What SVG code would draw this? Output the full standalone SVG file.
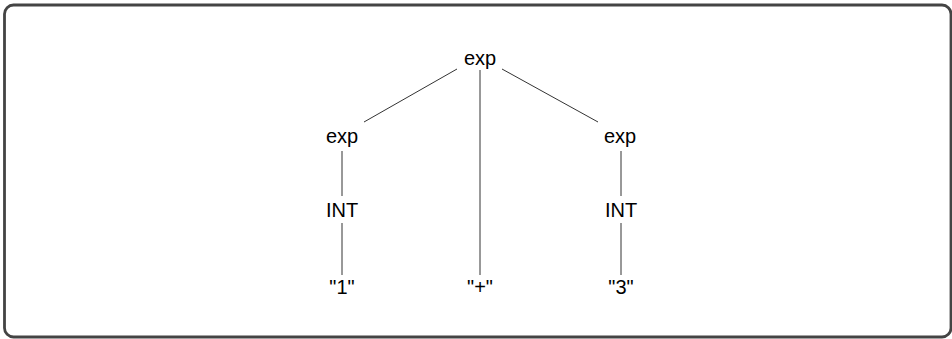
<svg xmlns="http://www.w3.org/2000/svg" width="952" height="339" viewBox="0 0 952 339">
<style>
.lbl{font-family:"Liberation Sans",Arial,sans-serif;font-size:20px;fill:#000;text-anchor:middle}
.edge{stroke:#333;stroke-width:1;fill:none}
</style>
<rect x="4.5" y="5" width="946.5" height="332" rx="9" ry="9" fill="#fff" stroke="#444" stroke-width="2.8"/>
<g id="connectors">
<line class="edge" x1="457" y1="69" x2="364" y2="122"/>
<line class="edge" x1="480" y1="70" x2="480" y2="275"/>
<line class="edge" x1="502" y1="69" x2="598" y2="122"/>
<line class="edge" x1="342" y1="151" x2="342" y2="196"/>
<line class="edge" x1="342" y1="223" x2="342" y2="275"/>
<line class="edge" x1="621" y1="151" x2="621" y2="196"/>
<line class="edge" x1="621" y1="223" x2="621" y2="275"/>
</g>
<g id="root"><text class="lbl" x="480" y="65">exp</text></g>
<g id="expL"><text class="lbl" x="342" y="143">exp</text></g>
<g id="expR"><text class="lbl" x="620" y="143">exp</text></g>
<g id="intL"><text class="lbl" x="342" y="217">INT</text></g>
<g id="intR"><text class="lbl" x="621" y="217">INT</text></g>
<g id="leaf1"><text class="lbl" x="342" y="294">"1"</text></g>
<g id="leafPlus"><text class="lbl" x="480" y="294">"+"</text></g>
<g id="leaf3"><text class="lbl" x="621" y="294">"3"</text></g>
</svg>
